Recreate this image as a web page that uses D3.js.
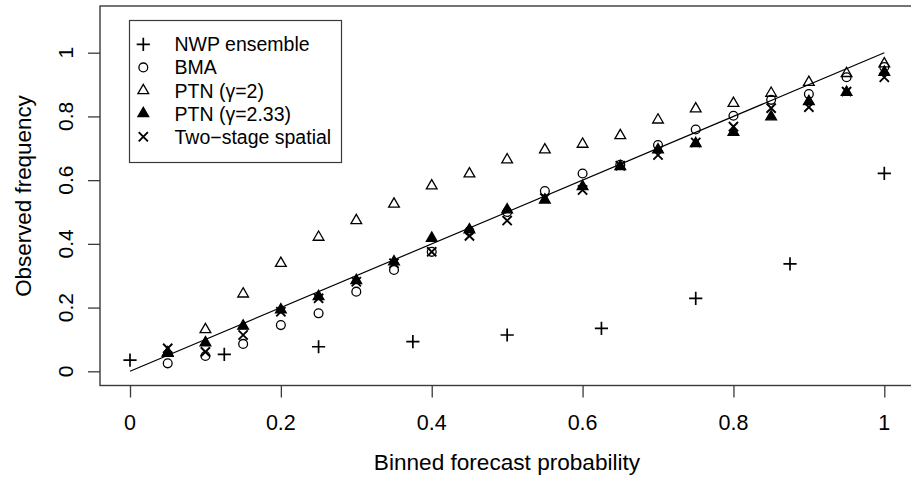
<!DOCTYPE html>
<html><head><meta charset="utf-8">
<script src="https://cdn.jsdelivr.net/npm/d3@7"></script>
<style>
html,body{margin:0;padding:0;background:#fff;}
svg{display:block;}
text{font-family:"Liberation Sans",Arial,Helvetica,sans-serif;fill:#000;}
</style></head>
<body>
<svg id="chart" width="911" height="483"></svg>
<script>
// ---- data ----
const nwpProb = [0, 0.125, 0.25, 0.375, 0.5, 0.625, 0.75, 0.875, 1];
const nwpFreq = [0.035, 0.053, 0.077, 0.093, 0.114, 0.135, 0.229, 0.337, 0.621];
const binProb = [0.05,0.1,0.15,0.2,0.25,0.3,0.35,0.4,0.45,0.5,0.55,0.6,0.65,0.7,0.75,0.8,0.85,0.9,0.95,1.0];
const bmaFreq = [0.025,0.048,0.086,0.145,0.182,0.250,0.318,0.375,0.440,0.500,0.566,0.621,0.648,0.710,0.759,0.802,0.852,0.870,0.923,0.955];
const ptn2Freq = [0.058,0.131,0.243,0.339,0.421,0.473,0.525,0.582,0.620,0.664,0.695,0.713,0.740,0.789,0.824,0.841,0.873,0.907,0.935,0.965];
const ptn233Freq = [0.057,0.090,0.142,0.193,0.235,0.285,0.344,0.418,0.444,0.507,0.538,0.580,0.643,0.695,0.715,0.750,0.799,0.847,0.876,0.939];
const twoStageFreq = [0.072,0.061,0.114,0.187,0.229,0.281,0.339,0.375,0.425,0.473,0.543,0.569,0.645,0.679,0.718,0.768,0.826,0.829,0.878,0.923];
const xTicks = [0, 0.2, 0.4, 0.6, 0.8, 1];
const yTicks = [0, 0.2, 0.4, 0.6, 0.8, 1];
const legendLabels = ["NWP ensemble", "BMA", "PTN (\u03b3=2)", "PTN (\u03b3=2.33)", "Two\u2212stage spatial"];
const legendSymbols = ["plus", "circle", "triOpen", "triFilled", "cross"];
const xLabel = "Binned forecast probability";
const yLabel = "Observed frequency";

// ---- layout ----
const svg = d3.select("#chart");
const x = d3.scaleLinear().domain([0, 1]).range([130, 884.3]);
const y = d3.scaleLinear().domain([0, 1]).range([371.3, 52.7]);
const box = {left: 100, top: 6, right: 915, bottom: 385.5};
const axisCol = "#3a3a3a";

// symbol painter
function drawSymbol(g, type, cx, cy) {
  if (type === "plus") {
    const h = 6.6;
    g.append("path").attr("d", `M${cx-h},${cy}H${cx+h}M${cx},${cy-h}V${cy+h}`)
      .attr("stroke", "#000").attr("stroke-width", 1.7).attr("fill", "none");
  } else if (type === "circle") {
    g.append("circle").attr("cx", cx).attr("cy", cy).attr("r", 4.4)
      .attr("stroke", "#000").attr("stroke-width", 1.3).attr("fill", "none");
  } else if (type === "triOpen" || type === "triFilled") {
    const R = 6.2, s = R * Math.sin(Math.PI / 3);
    g.append("path").attr("d", `M${cx},${cy-R}L${cx+s},${cy+R/2}L${cx-s},${cy+R/2}Z`)
      .attr("stroke", "#000").attr("stroke-width", 1.3)
      .attr("fill", type === "triFilled" ? "#000" : "none");
  } else if (type === "cross") {
    const h = 4.6;
    g.append("path").attr("d", `M${cx-h},${cy-h}L${cx+h},${cy+h}M${cx-h},${cy+h}L${cx+h},${cy-h}`)
      .attr("stroke", "#000").attr("stroke-width", 1.9).attr("fill", "none");
  }
}

// diagonal reference line
svg.append("line")
  .attr("x1", x(0)).attr("y1", y(0)).attr("x2", x(1)).attr("y2", y(1))
  .attr("stroke", "#000").attr("stroke-width", 1.2);

// points
const pts = svg.append("g");
nwpProb.forEach((p, i) => drawSymbol(pts, "plus", x(p), y(nwpFreq[i])));
binProb.forEach((p, i) => drawSymbol(pts, "circle", x(p), y(bmaFreq[i])));
binProb.forEach((p, i) => drawSymbol(pts, "triOpen", x(p), y(ptn2Freq[i])));
binProb.forEach((p, i) => drawSymbol(pts, "triFilled", x(p), y(ptn233Freq[i])));
binProb.forEach((p, i) => drawSymbol(pts, "cross", x(p), y(twoStageFreq[i])));

// plot box
svg.append("rect")
  .attr("x", box.left).attr("y", box.top)
  .attr("width", box.right - box.left).attr("height", box.bottom - box.top)
  .attr("fill", "none").attr("stroke", axisCol).attr("stroke-width", 1.4);

// x axis
const xAxis = svg.append("g").attr("transform", `translate(0,${box.bottom})`)
  .call(d3.axisBottom(x).tickValues(xTicks).tickSize(12).tickFormat(""));
xAxis.select(".domain").remove();
xAxis.selectAll(".tick line").attr("stroke", axisCol).attr("stroke-width", 1.3);
svg.append("g").selectAll("text").data(xTicks).join("text")
  .attr("x", d => x(d)).attr("y", 429.5)
  .attr("text-anchor", "middle").attr("font-size", 21.5)
  .text(d => d3.format("~g")(d));

// y axis
const yAxis = svg.append("g").attr("transform", `translate(${box.left},0)`)
  .call(d3.axisLeft(y).tickValues(yTicks).tickSize(12).tickFormat(""));
yAxis.select(".domain").remove();
yAxis.selectAll(".tick line").attr("stroke", axisCol).attr("stroke-width", 1.3);
svg.append("g").selectAll("text").data(yTicks).join("text")
  .attr("transform", d => `translate(73,${y(d)}) rotate(-90)`)
  .attr("text-anchor", "middle").attr("font-size", 21)
  .text(d => d3.format("~g")(d));

// axis titles
svg.append("text").attr("x", 507).attr("y", 470)
  .attr("text-anchor", "middle").attr("font-size", 22.6).text(xLabel);
svg.append("text").attr("transform", `translate(31,196) rotate(-90)`)
  .attr("text-anchor", "middle").attr("font-size", 22.4).text(yLabel);

// legend
const lg = svg.append("g");
lg.append("rect").attr("x", 129.5).attr("y", 20.5).attr("width", 212).attr("height", 142)
  .attr("fill", "#fff").attr("stroke", axisCol).attr("stroke-width", 1.2);
legendLabels.forEach((lab, i) => {
  const cy = 44.3 + i * 23.1;
  drawSymbol(lg, legendSymbols[i], 143.3, cy);
  lg.append("text").attr("x", 174.5).attr("y", cy + 7)
    .attr("font-size", 19.5).text(lab);
});
</script>
</body></html>
